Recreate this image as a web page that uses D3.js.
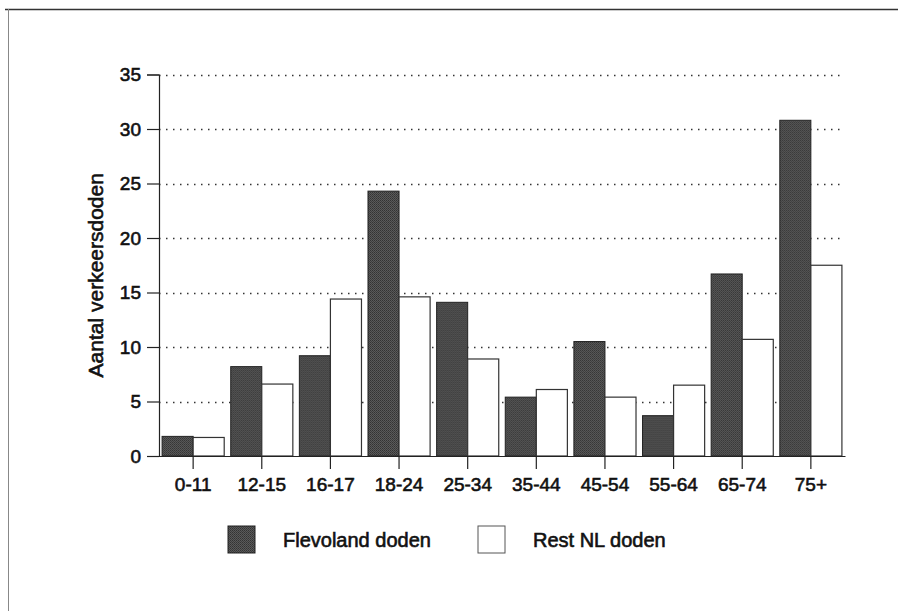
<!DOCTYPE html>
<html>
<head>
<meta charset="utf-8">
<script src="https://cdn.jsdelivr.net/npm/d3@7"></script>
<style>
  html, body { margin: 0; padding: 0; background: #fff; }
  svg { display: block; }
  text { font-family: "Liberation Sans", Arial, sans-serif; fill: #111; }
</style>
</head>
<body>
<svg id="chart" width="898" height="611"></svg>
<script>
const categories = ["0-11", "12-15", "16-17", "18-24", "25-34", "35-44", "45-54", "55-64", "65-74", "75+"];
const flevolandDoden = [1.8, 8.2, 9.2, 24.3, 14.1, 5.4, 10.5, 3.7, 16.7, 30.8];
const restNLDoden = [1.7, 6.6, 14.4, 14.6, 8.9, 6.1, 5.4, 6.5, 10.7, 17.5];
const seriesNames = ["Flevoland doden", "Rest NL doden"];
const yTicks = [0, 5, 10, 15, 20, 25, 30, 35];
const yTitle = "Aantal verkeersdoden";

const svg = d3.select("#chart");

// texture for dark bars
const defs = svg.append("defs");
const pat = defs.append("pattern").attr("id", "dark").attr("width", 2).attr("height", 2)
  .attr("patternUnits", "userSpaceOnUse");
pat.append("rect").attr("width", 2).attr("height", 2).attr("fill", "#5a5a5a");
pat.append("rect").attr("width", 1).attr("height", 1).attr("fill", "#333");
pat.append("rect").attr("x", 1).attr("y", 1).attr("width", 1).attr("height", 1).attr("fill", "#3e3e3e");

// outer frame (top and left edges)
svg.append("line").attr("x1", 5).attr("x2", 898).attr("y1", 9.5).attr("y2", 9.5)
  .attr("stroke", "#333").attr("stroke-width", 1.5);
svg.append("line").attr("x1", 8.5).attr("x2", 8.5).attr("y1", 9).attr("y2", 611)
  .attr("stroke", "#888").attr("stroke-width", 1);

const plotLeft = 159, plotRight = 845, plotTop = 74.5, plotBottom = 456;

const x = d3.scaleBand().domain(categories).range([plotLeft, plotRight])
  .paddingInner(0.095).paddingOuter(0.045);
const sub = d3.scaleBand().domain(seriesNames).range([0, x.bandwidth()]);
const y = d3.scaleLinear().domain([0, 35]).range([plotBottom, plotTop]);

// gridlines
svg.append("g").selectAll("line").data(yTicks.filter(d => d > 0)).join("line")
  .attr("x1", plotLeft).attr("x2", plotRight)
  .attr("y1", d => Math.round(y(d)) + 0.5).attr("y2", d => Math.round(y(d)) + 0.5)
  .attr("stroke", "#333").attr("stroke-width", 1.3)
  .attr("stroke-dasharray", "1.5,5.5");

// bars
const groups = svg.append("g").selectAll("g").data(categories).join("g")
  .attr("transform", d => `translate(${x(d)},0)`);
groups.append("rect")
  .attr("x", sub(seriesNames[0])).attr("width", sub.bandwidth())
  .attr("y", (d, i) => y(flevolandDoden[i]))
  .attr("height", (d, i) => y(0) - y(flevolandDoden[i]))
  .attr("fill", "url(#dark)").attr("stroke", "#222").attr("stroke-width", 1);
groups.append("rect")
  .attr("x", sub(seriesNames[1])).attr("width", sub.bandwidth())
  .attr("y", (d, i) => y(restNLDoden[i]))
  .attr("height", (d, i) => y(0) - y(restNLDoden[i]))
  .attr("fill", "#fff").attr("stroke", "#333").attr("stroke-width", 1.2);

// y axis
const yAxis = svg.append("g").attr("transform", `translate(${plotLeft},0)`)
  .call(d3.axisLeft(y).tickValues(yTicks).tickSize(12).tickPadding(6));
yAxis.select(".domain").attr("stroke", "#222").attr("stroke-width", 1.2);
yAxis.selectAll(".tick line").attr("stroke", "#222").attr("stroke-width", 1.2);
yAxis.selectAll(".tick text").attr("font-size", 19).attr("font-family", "Liberation Sans, Arial, sans-serif")
  .attr("fill", "#111").attr("stroke", "#111").attr("stroke-width", 0.6);

// x axis
const xAxis = svg.append("g").attr("transform", `translate(0,${plotBottom})`)
  .call(d3.axisBottom(x).tickSize(13).tickPadding(9).tickSizeOuter(0));
xAxis.select(".domain").attr("stroke", "#222").attr("stroke-width", 1.2);
xAxis.selectAll(".tick line").attr("stroke", "#222").attr("stroke-width", 1.2);
xAxis.selectAll(".tick text").attr("font-size", 19).attr("font-family", "Liberation Sans, Arial, sans-serif")
  .attr("fill", "#111").attr("stroke", "#111").attr("stroke-width", 0.6);

// y title
svg.append("text")
  .attr("transform", `translate(103,${(plotTop + plotBottom) / 2 + 10}) rotate(-90)`)
  .attr("text-anchor", "middle").attr("font-size", 21)
  .attr("stroke", "#111").attr("stroke-width", 0.6)
  .text(yTitle);

// legend
const legendItems = [
  { name: seriesNames[0], fill: "url(#dark)", stroke: "#222", x: 228 },
  { name: seriesNames[1], fill: "#fff", stroke: "#555", x: 478 }
];
const lg = svg.append("g").selectAll("g").data(legendItems).join("g")
  .attr("transform", d => `translate(${d.x},526)`);
lg.append("rect").attr("width", 27).attr("height", 27)
  .attr("fill", d => d.fill).attr("stroke", d => d.stroke).attr("stroke-width", 1);
lg.append("text").attr("x", 55).attr("y", 21).attr("font-size", 20)
  .attr("stroke", "#111").attr("stroke-width", 0.6)
  .text(d => d.name);
</script>
</body>
</html>
